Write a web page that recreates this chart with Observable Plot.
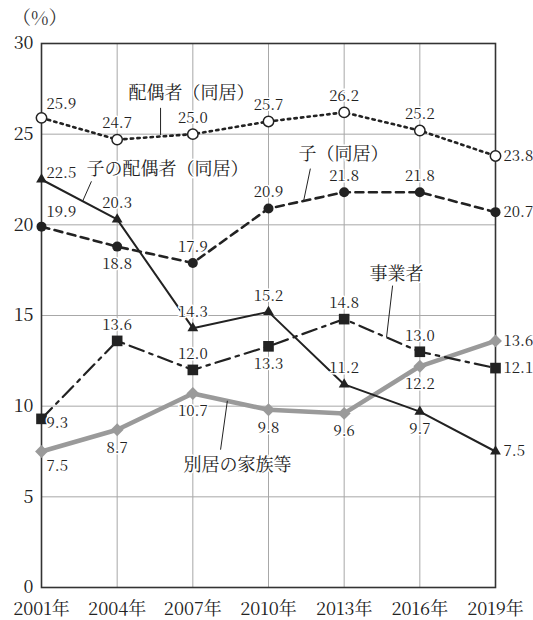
<!DOCTYPE html>
<html>
<head>
<meta charset="utf-8">
<script src="https://cdn.jsdelivr.net/npm/d3@7"></script>
<script src="https://cdn.jsdelivr.net/npm/@observablehq/plot@0.6"></script>
<style>
  html, body { margin: 0; padding: 0; background: #fff; }
  #chart { position: relative; width: 533px; height: 620px; }
  #unit { position: absolute; left: 12px; top: 3px; font-size: 19px; font-family: "Noto Serif CJK JP", "Liberation Serif", serif; color: #333; }
</style>
</head>
<body>
<div id="chart"><div id="unit">（%）</div></div>
<script>
// Survey years and the share (%) of each type of main caregiver
const years = [2001, 2004, 2007, 2010, 2013, 2016, 2019];
const spouse = [25.9, 24.7, 25.0, 25.7, 26.2, 25.2, 23.8];       // 配偶者（同居）
const child = [19.9, 18.8, 17.9, 20.9, 21.8, 21.8, 20.7];        // 子（同居）
const childSpouse = [22.5, 20.3, 14.3, 15.2, 11.2, 9.7, 7.5];    // 子の配偶者（同居）
const provider = [9.3, 13.6, 12.0, 13.3, 14.8, 13.0, 12.1];      // 事業者
const separate = [7.5, 8.7, 10.7, 9.8, 9.6, 12.2, 13.6];         // 別居の家族等
const seriesNames = ["配偶者（同居）", "子（同居）", "子の配偶者（同居）", "事業者", "別居の家族等"];
const yTicks = [0, 5, 10, 15, 20, 25, 30];

const FONT = '"Noto Serif CJK JP", "Liberation Serif", serif';

// Where each value label sits relative to its point
const labelSides = {
  "配偶者（同居）": ["ne", "n", "n", "n", "n", "n", "e"],
  "子（同居）": ["ne", "s", "n", "n", "n", "n", "e"],
  "子の配偶者（同居）": ["ene", "n", "n", "n", "n", "s", "e"],
  "事業者": ["ese", "n", "n", "s", "n", "n", "e"],
  "別居の家族等": ["se", "s", "s", "s", "s", "s", "e"]
};
const placements = {
  n:   {dx: 0, dy: -16, textAnchor: "middle"},
  s:   {dx: 0, dy: 18, textAnchor: "middle"},
  e:   {dx: 8, dy: 0, textAnchor: "start"},
  ne:  {dx: 5, dy: -14, textAnchor: "start"},
  ene: {dx: 5, dy: -6, textAnchor: "start"},
  ese: {dx: 5, dy: 4, textAnchor: "start"},
  se:  {dx: 5, dy: 15, textAnchor: "start"}
};

// Line and marker styles per series
const styles = {
  "配偶者（同居）": {stroke: "#222", strokeWidth: 2.6, dash: "2.4,4.2", symbol: "circle", r: 5.2, fill: "#fff", dotStroke: "#222"},
  "子（同居）": {stroke: "#222", strokeWidth: 2.6, dash: "8,5.5", symbol: "circle", r: 5, fill: "#222", dotStroke: "none"},
  "子の配偶者（同居）": {stroke: "#222", strokeWidth: 2, dash: null, symbol: "triangle", r: 4, fill: "#222", dotStroke: "none"},
  "事業者": {stroke: "#222", strokeWidth: 2.2, dash: "15,6,3.5,6", symbol: "square", r: 6, fill: "#222", dotStroke: "none"},
  "別居の家族等": {stroke: "#9a9a9a", strokeWidth: 4.5, dash: null, symbol: "diamond2", r: 5.8, fill: "#9a9a9a", dotStroke: "none"}
};

const valuesBySeries = [spouse, child, childSpouse, provider, separate];
const rows = seriesNames.flatMap((name, i) =>
  years.map((year, j) => ({series: name, year, value: valuesBySeries[i][j], side: labelSides[name][j]}))
);

// Series captions and their leader lines, in data coordinates
const captions = [
  {text: "配偶者（同居）", x: 2006.95, y: 27.25},
  {text: "子の配偶者（同居）", x: 2006.0, y: 23.05},
  {text: "子（同居）", x: 2012.97, y: 23.88},
  {text: "事業者", x: 2015.07, y: 17.26},
  {text: "別居の家族等", x: 2008.77, y: 6.73}
];
const leaders = [
  {x1: 2005.72, y1: 26.45, x2: 2005.72, y2: 24.95},
  {x1: 2002.98, y1: 22.4, x2: 2002.63, y2: 21.3},
  {x1: 2011.66, y1: 23.1, x2: 2011.39, y2: 21.3},
  {x1: 2014.92, y1: 16.65, x2: 2014.68, y2: 13.8},
  {x1: 2008.1, y1: 7.6, x2: 2008.37, y2: 10.3}
];

// Gray line first so the black lines sit over it
const drawOrder = ["別居の家族等", "配偶者（同居）", "子（同居）", "子の配偶者（同居）", "事業者"];

const lineMarks = drawOrder.map(name => {
  const s = styles[name];
  return Plot.line(rows.filter(d => d.series === name), {
    x: "year", y: "value", stroke: s.stroke, strokeWidth: s.strokeWidth,
    strokeDasharray: s.dash || undefined, strokeLinejoin: "miter"
  });
});
const dotMarks = drawOrder.map(name => {
  const s = styles[name];
  return Plot.dot(rows.filter(d => d.series === name), {
    x: "year", y: "value", symbol: () => s.symbol, r: s.r, fill: s.fill,
    stroke: s.dotStroke, strokeWidth: 1.5
  });
});
const labelMarks = Object.entries(placements).map(([side, p]) =>
  Plot.text(rows.filter(d => d.side === side), {
    x: "year", y: "value", text: d => d.value.toFixed(1),
    dx: p.dx, dy: p.dy, textAnchor: p.textAnchor,
    fontFamily: FONT, fontSize: 15, fill: "#222", stroke: "white", strokeWidth: 3
  })
);

const chart = Plot.plot({
  width: 533,
  height: 620,
  marginLeft: 41,
  marginRight: 38,
  marginTop: 43,
  marginBottom: 33,
  style: {background: "#fff", color: "#222", fontFamily: FONT},
  x: {type: "linear", domain: [2001, 2019]},
  y: {domain: [0, 30]},
  marks: [
    Plot.gridX(years.slice(1, -1), {stroke: "#a8a8a8", strokeOpacity: 1, strokeWidth: 1}),
    Plot.gridY(yTicks.slice(1, -1), {stroke: "#a8a8a8", strokeOpacity: 1, strokeWidth: 1}),
    Plot.axisX({ticks: years, tickFormat: d => d + "年", tickSize: 0, tickPadding: 15, fontSize: 18, fontFamily: FONT, label: null}),
    Plot.axisY({ticks: yTicks, tickSize: 0, tickPadding: 8, fontSize: 18, fontFamily: FONT, label: null}),
    Plot.frame({stroke: "#333", strokeWidth: 1.6}),
    ...lineMarks,
    Plot.link(leaders, {x1: "x1", y1: "y1", x2: "x2", y2: "y2", stroke: "#222", strokeWidth: 1}),
    ...dotMarks,
    ...labelMarks,
    Plot.text(captions, {x: "x", y: "y", text: "text", fontFamily: FONT, fontSize: 18, fill: "#222", stroke: "white", strokeWidth: 3})
  ]
});

document.getElementById("chart").appendChild(chart);
</script>
</body>
</html>
